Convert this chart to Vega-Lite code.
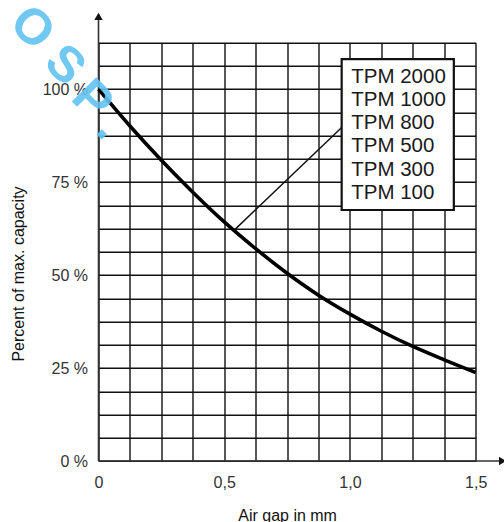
{
  "$schema": "https://vega.github.io/schema/vega-lite/v6.json",
  "autosize": {"type": "none"},
  "padding": {"left": 98.5, "top": 42.7, "right": 28.3, "bottom": 61},
  "width": 377.2,
  "height": 418.3,
  "background": "white",
  "config": {
    "view": {"stroke": null},
    "font": "Liberation Sans"
  },
  "datasets": {
    "curve": [
      {"x": 0, "y": 100},
      {"x": 0.125, "y": 90.1},
      {"x": 0.25, "y": 80.9},
      {"x": 0.375, "y": 72.3},
      {"x": 0.5, "y": 64.3},
      {"x": 0.625, "y": 57.1},
      {"x": 0.75, "y": 50.5},
      {"x": 0.875, "y": 44.6},
      {"x": 1.0, "y": 39.5},
      {"x": 1.125, "y": 34.9},
      {"x": 1.25, "y": 30.8},
      {"x": 1.375, "y": 27.2},
      {"x": 1.5, "y": 23.8}
    ],
    "axislines": [
      {"x": 0, "y": 0, "x2": 0, "y2": 119},
      {"x": 0, "y": 0, "x2": 1.6, "y2": 0}
    ],
    "arrows": [
      {"x": 0, "y": 119.6, "dir": "up"},
      {"x": 1.607, "y": 0, "dir": "right"}
    ],
    "leader": [
      {"x": 0.543, "y": 62.3, "x2": 0.967, "y2": 89.7}
    ],
    "box": [
      {"x": 0.967, "y": 67.5, "x2": 1.413, "y2": 108.1}
    ],
    "labels": [
      {"x": 1.005, "y": 103.3, "label": "TPM 2000"},
      {"x": 1.005, "y": 97.1, "label": "TPM 1000"},
      {"x": 1.005, "y": 90.8, "label": "TPM 800"},
      {"x": 1.005, "y": 84.6, "label": "TPM 500"},
      {"x": 1.005, "y": 78.3, "label": "TPM 300"},
      {"x": 1.005, "y": 72.1, "label": "TPM 100"}
    ],
    "watermark": [
      {"x": -0.265, "y": 116.4, "label": "O"},
      {"x": -0.135, "y": 106.4, "label": "S"},
      {"x": -0.026, "y": 97.0, "label": "P"},
      {"x": 0.045, "y": 90.0, "label": "."}
    ]
  },
  "encoding": {
    "x": {
      "field": "x",
      "type": "quantitative",
      "scale": {"domain": [0, 1.5], "nice": false, "zero": false},
      "axis": {
        "title": "Air gap in mm",
        "values": [0, 0.125, 0.25, 0.375, 0.5, 0.625, 0.75, 0.875, 1, 1.125, 1.25, 1.375, 1.5],
        "labelExpr": "datum.value == 0 ? '0' : (datum.value % 0.5 == 0 ? replace(format(datum.value, '.1f'), '.', ',') : '')",
        "grid": true,
        "gridColor": "#111111",
        "gridWidth": 1.4,
        "gridOpacity": 1,
        "domain": false,
        "ticks": false,
        "labelPadding": 13,
        "labelFontSize": 16,
        "labelColor": "#333333",
        "labelFont": "Liberation Sans",
        "labelFlush": false,
        "labelOverlap": false,
        "titleFont": "Liberation Sans",
        "titleFontSize": 16,
        "titleFontWeight": "normal",
        "titleColor": "#111111",
        "titleX": 188.6,
        "titleY": 59,
        "titleBaseline": "alphabetic",
        "titleAnchor": "middle",
        "titleAlign": "center"
      }
    },
    "y": {
      "field": "y",
      "type": "quantitative",
      "scale": {"domain": [0, 112.5], "nice": false, "zero": false},
      "axis": {
        "title": "Percent of max. capacity",
        "values": [0, 6.25, 12.5, 18.75, 25, 31.25, 37.5, 43.75, 50, 56.25, 62.5, 68.75, 75, 81.25, 87.5, 93.75, 100, 106.25, 112.5],
        "labelExpr": "datum.value % 25 == 0 ? datum.value + ' %' : ''",
        "grid": true,
        "gridColor": "#111111",
        "gridWidth": 1.4,
        "gridOpacity": 1,
        "domain": false,
        "ticks": false,
        "labelPadding": 11,
        "labelFontSize": 16,
        "labelColor": "#333333",
        "labelFont": "Liberation Sans",
        "labelFlush": false,
        "labelOverlap": false,
        "titleFont": "Liberation Sans",
        "titleFontSize": 16,
        "titleFontWeight": "normal",
        "titleColor": "#111111",
        "titleAngle": -90,
        "titleX": -75.2,
        "titleY": 230.8,
        "titleBaseline": "alphabetic",
        "titleAlign": "center"
      }
    }
  },
  "layer": [
    {
      "data": {"name": "axislines"},
      "mark": {"type": "rule", "color": "#333333", "strokeWidth": 1.6},
      "encoding": {
        "x2": {"field": "x2"},
        "y2": {"field": "y2"}
      }
    },
    {
      "data": {"name": "arrows"},
      "mark": {"type": "point", "filled": true, "color": "#111111", "opacity": 1, "size": 70},
      "encoding": {
        "shape": {
          "field": "dir",
          "type": "nominal",
          "scale": {"domain": ["up", "right"], "range": ["triangle-up", "triangle-right"]},
          "legend": null
        }
      }
    },
    {
      "data": {"name": "leader"},
      "mark": {"type": "rule", "color": "#111111", "strokeWidth": 1.5},
      "encoding": {
        "x2": {"field": "x2"},
        "y2": {"field": "y2"}
      }
    },
    {
      "data": {"name": "curve"},
      "mark": {"type": "line", "color": "#000000", "strokeWidth": 3.6, "interpolate": "monotone"}
    },
    {
      "data": {"name": "box"},
      "mark": {"type": "rect", "fill": "white", "stroke": "#111111", "strokeWidth": 2.2},
      "encoding": {
        "x2": {"field": "x2"},
        "y2": {"field": "y2"}
      }
    },
    {
      "data": {"name": "labels"},
      "mark": {"type": "text", "align": "left", "baseline": "middle", "fontSize": 20.5, "font": "Liberation Sans", "color": "#1a1a1a"},
      "encoding": {
        "text": {"field": "label"}
      }
    },
    {
      "data": {"name": "watermark"},
      "mark": {"type": "text", "align": "center", "baseline": "middle", "fontSize": 50, "fontWeight": "bold", "font": "Liberation Sans", "angle": 45, "color": "#62c3f2", "opacity": 0.9},
      "encoding": {
        "text": {"field": "label"}
      }
    }
  ]
}
